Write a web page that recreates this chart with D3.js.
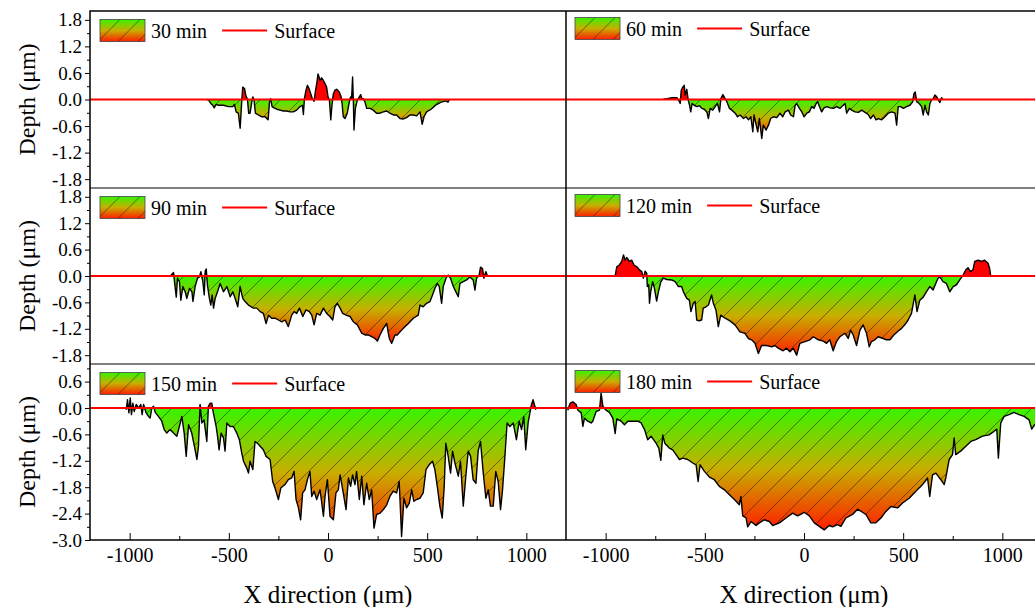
<!DOCTYPE html>
<html>
<head>
<meta charset="utf-8">
<script src="https://cdn.jsdelivr.net/npm/d3@7"></script>
<style>
  body { margin: 0; background: #fff; }
  svg text { font-family: "Liberation Serif", "Times New Roman", Times, "DejaVu Serif", serif !important; }
</style>
</head>
<body>
<svg id="chart" width="1035" height="607"></svg>
<script>
// depth profiles: [x (um), depth (um)]
const profile30 = [[-612,0],[-603,-0.01],[-591,-0.09],[-581,-0.13],[-574,-0.19],[-564,-0.11],[-552,-0.13],[-527,-0.13],[-502,-0.16],[-480,-0.16],[-472,-0.11],[-463,-0.28],[-452,-0.31],[-443,-0.65],[-435,-0.05],[-430,0.28],[-421,0.25],[-415,0.10],[-406,0.00],[-400,-0.31],[-393,-0.31],[-384,-0.05],[-379,0.06],[-373,-0.01],[-366,-0.31],[-351,-0.35],[-334,-0.39],[-317,-0.39],[-309,-0.43],[-302,-0.46],[-295,-0.05],[-289,0.02],[-282,-0.16],[-272,-0.19],[-258,-0.22],[-242,-0.24],[-225,-0.26],[-208,-0.26],[-191,-0.28],[-175,-0.28],[-158,-0.24],[-141,-0.16],[-129,-0.13],[-124,-0.34],[-119,0.02],[-111,0.21],[-104,0.32],[-96,0.25],[-87,0.13],[-79,0.02],[-70,-0.04],[-64,0.17],[-57,0.36],[-50,0.58],[-40,0.43],[-32,0.49],[-23,0.43],[-15,0.36],[-7,0.28],[0,0.06],[7,-0.01],[14,-0.46],[20,-0.13],[27,0.13],[35,0.21],[44,0.23],[57,0.17],[66,0.06],[71,-0.09],[77,-0.39],[86,-0.43],[97,-0.31],[108,-0.04],[114,0.06],[119,0.02],[124,0.51],[128,-0.05],[131,-0.69],[138,-0.20],[148,-0.01],[158,0.06],[165,0.11],[171,0.02],[178,0.02],[186,-0.05],[195,-0.20],[212,-0.20],[228,-0.24],[245,-0.31],[262,-0.31],[279,-0.28],[296,-0.26],[312,-0.31],[329,-0.35],[346,-0.35],[363,-0.43],[380,-0.44],[396,-0.41],[413,-0.35],[430,-0.35],[447,-0.37],[464,-0.28],[475,-0.56],[484,-0.39],[497,-0.28],[520,-0.22],[545,-0.12],[570,-0.06],[595,-0.03],[605,-0.06],[612,0.0]];

const profile60 = [[-708,0.01],[-691,0.02],[-666,0.04],[-641,0.04],[-633,-0.01],[-624,-0.09],[-619,0.21],[-611,0.28],[-604,0.32],[-599,0.10],[-591,0.23],[-584,-0.01],[-577,-0.13],[-571,-0.28],[-564,-0.09],[-554,-0.13],[-540,-0.16],[-527,-0.14],[-515,-0.20],[-503,-0.22],[-490,-0.28],[-482,-0.43],[-473,-0.20],[-460,-0.24],[-448,-0.16],[-436,-0.09],[-426,-0.28],[-419,0.02],[-409,0.11],[-398,0.02],[-389,-0.05],[-376,-0.20],[-364,-0.24],[-347,-0.31],[-335,-0.39],[-322,-0.35],[-305,-0.43],[-292,-0.39],[-280,-0.46],[-268,-0.39],[-258,-0.73],[-252,-0.35],[-241,-0.58],[-233,-0.73],[-225,-0.43],[-213,-0.88],[-205,-0.58],[-191,-0.69],[-179,-0.58],[-168,-0.43],[-154,-0.39],[-137,-0.41],[-121,-0.31],[-107,-0.39],[-95,-0.28],[-79,-0.24],[-67,-0.35],[-53,-0.39],[-45,-0.14],[-37,-0.09],[-23,-0.20],[-11,-0.28],[0,-0.39],[14,-0.31],[27,-0.28],[39,-0.16],[51,-0.20],[61,-0.09],[68,-0.05],[78,-0.16],[89,-0.28],[101,-0.19],[115,-0.16],[131,-0.19],[148,-0.20],[165,-0.16],[182,-0.20],[195,-0.14],[207,-0.09],[215,-0.31],[229,-0.20],[240,-0.24],[257,-0.28],[274,-0.29],[291,-0.24],[308,-0.29],[324,-0.34],[336,-0.43],[350,-0.35],[363,-0.46],[375,-0.43],[392,-0.46],[408,-0.39],[425,-0.31],[442,-0.28],[459,-0.31],[467,-0.58],[475,-0.16],[487,-0.16],[501,-0.20],[517,-0.16],[534,-0.13],[548,-0.05],[554,0.13],[561,0.17],[568,-0.05],[581,-0.09],[593,-0.16],[601,-0.35],[610,-0.13],[618,-0.28],[627,-0.35],[635,-0.09],[643,-0.01],[652,0.02],[660,0.10],[669,0.06],[677,-0.01],[685,-0.07],[694,0.04],[699,0.01]];

const profile90 = [[-799,-0.02],[-779,0.08],[-770,-0.28],[-765,-0.48],[-759,-0.05],[-749,-0.13],[-742,-0.55],[-732,-0.24],[-720,-0.36],[-712,-0.51],[-698,-0.28],[-686,-0.36],[-681,-0.58],[-670,-0.24],[-658,-0.05],[-648,-0.02],[-641,0.10],[-631,-0.13],[-624,-0.43],[-619,0.11],[-614,0.16],[-608,-0.20],[-598,-0.51],[-591,-0.66],[-584,-0.43],[-577,-0.73],[-569,-0.51],[-557,-0.36],[-544,-0.17],[-527,-0.36],[-510,-0.24],[-493,-0.47],[-480,-0.36],[-468,-0.51],[-455,-0.70],[-443,-0.24],[-430,-0.51],[-418,-0.58],[-401,-0.66],[-376,-0.73],[-359,-0.73],[-342,-0.81],[-326,-0.85],[-312,-1.08],[-300,-0.89],[-284,-0.96],[-267,-0.96],[-250,-1.00],[-233,-1.04],[-216,-1.00],[-200,-1.15],[-183,-0.89],[-171,-0.81],[-158,-0.85],[-144,-0.73],[-127,-0.92],[-111,-0.77],[-94,-0.81],[-82,-0.89],[-70,-1.11],[-57,-0.85],[-40,-0.89],[-23,-0.73],[-7,-0.85],[10,-0.92],[24,-1.00],[35,-0.70],[47,-0.62],[61,-0.73],[74,-0.85],[91,-0.89],[111,-0.92],[128,-1.04],[148,-1.11],[170,-1.30],[187,-1.34],[203,-1.34],[220,-1.38],[237,-1.42],[249,-1.48],[262,-1.34],[279,-1.19],[296,-1.08],[309,-1.42],[321,-1.53],[338,-1.34],[349,-1.34],[363,-1.27],[380,-1.19],[405,-1.08],[430,-0.96],[455,-0.89],[464,-0.66],[480,-0.70],[497,-0.62],[514,-0.58],[527,-0.43],[539,-0.28],[551,-0.17],[561,-0.24],[573,-0.62],[581,-0.24],[595,-0.05],[606,0.02],[618,-0.05],[632,-0.24],[645,-0.36],[657,-0.47],[665,-0.17],[682,-0.13],[699,-0.09],[715,-0.02],[732,-0.09],[741,-0.32],[749,-0.05],[762,0.02],[769,0.20],[779,0.17],[786,-0.05],[796,0.10],[803,0.01]];

const profile120 = [[-952,0.01],[-944,0.21],[-931,0.25],[-919,0.33],[-910,0.48],[-902,0.36],[-894,0.42],[-880,0.33],[-869,0.36],[-857,0.25],[-843,0.21],[-830,0.14],[-818,0.10],[-810,-0.05],[-801,0.11],[-793,0.06],[-790,-0.24],[-783,-0.20],[-779,-0.62],[-773,-0.36],[-763,-0.13],[-754,-0.28],[-743,-0.57],[-734,-0.36],[-722,-0.13],[-709,-0.05],[-692,-0.08],[-667,-0.09],[-650,-0.13],[-633,-0.24],[-617,-0.24],[-608,-0.36],[-591,-0.51],[-578,-0.55],[-570,-0.81],[-558,-0.62],[-549,-0.58],[-541,-1.00],[-528,-1.02],[-516,-1.00],[-508,-0.73],[-494,-0.70],[-482,-0.66],[-466,-0.43],[-457,-0.62],[-444,-0.77],[-432,-1.15],[-420,-0.89],[-398,-0.96],[-373,-1.02],[-348,-1.11],[-323,-1.27],[-298,-1.30],[-281,-1.42],[-264,-1.45],[-247,-1.53],[-230,-1.76],[-214,-1.58],[-188,-1.58],[-163,-1.61],[-147,-1.58],[-130,-1.64],[-105,-1.70],[-88,-1.64],[-71,-1.72],[-54,-1.64],[-37,-1.80],[-21,-1.53],[5,-1.49],[30,-1.45],[47,-1.38],[72,-1.45],[97,-1.48],[114,-1.53],[130,-1.45],[147,-1.70],[164,-1.49],[181,-1.38],[206,-1.30],[223,-1.42],[235,-1.23],[248,-1.34],[265,-1.58],[282,-1.23],[298,-1.11],[315,-1.30],[329,-1.61],[340,-1.49],[357,-1.45],[374,-1.38],[399,-1.42],[416,-1.45],[433,-1.45],[453,-1.34],[475,-1.25],[492,-1.19],[508,-1.11],[525,-1.00],[542,-0.85],[559,-0.43],[570,-0.81],[584,-0.55],[601,-0.48],[617,-0.36],[634,-0.24],[651,-0.32],[668,-0.13],[676,-0.05],[685,-0.02],[701,-0.13],[718,-0.17],[735,-0.36],[752,-0.24],[769,-0.20],[785,-0.09],[802,0.02],[816,0.14],[827,0.19],[839,0.10],[852,0.14],[861,0.33],[878,0.36],[894,0.33],[911,0.36],[928,0.29],[936,0.17],[941,0.01]];

const profile150 = [[-1017,-0.04],[-1011,0.19],[-1004,-0.11],[-997,0.23],[-991,-0.15],[-984,0.11],[-977,-0.08],[-967,0.08],[-955,0.00],[-944,0.08],[-937,-0.15],[-930,0.08],[-917,-0.11],[-905,-0.19],[-897,-0.23],[-888,0.00],[-880,0.04],[-871,-0.10],[-855,-0.19],[-838,-0.30],[-826,-0.49],[-813,-0.57],[-796,-0.49],[-779,-0.57],[-762,-0.64],[-745,-0.34],[-737,-0.19],[-725,-0.57],[-715,-1.10],[-703,-0.38],[-687,-0.57],[-670,-0.95],[-661,-1.17],[-653,-0.87],[-645,0.08],[-636,-0.34],[-625,-0.27],[-611,-0.76],[-603,0.04],[-594,0.11],[-586,0.11],[-578,-0.11],[-564,-0.42],[-557,-0.64],[-549,-0.95],[-539,-0.57],[-527,-0.68],[-519,-0.98],[-510,-0.34],[-494,-0.42],[-477,-0.42],[-460,-0.57],[-447,-0.72],[-435,-1.02],[-426,-1.21],[-410,-1.36],[-401,-1.48],[-393,-1.21],[-379,-1.40],[-368,-0.76],[-356,-0.80],[-342,-0.87],[-326,-0.95],[-312,-1.10],[-292,-1.17],[-279,-1.67],[-267,-1.82],[-250,-2.08],[-238,-1.82],[-217,-1.74],[-200,-1.63],[-183,-1.59],[-171,-1.44],[-161,-2.08],[-149,-2.27],[-138,-2.54],[-128,-1.93],[-116,-1.86],[-104,-1.63],[-91,-1.44],[-82,-2.01],[-70,-1.89],[-57,-2.08],[-40,-1.86],[-23,-2.46],[-15,-2.01],[-3,-1.63],[10,-2.46],[27,-2.54],[40,-1.93],[52,-1.86],[61,-1.52],[77,-1.93],[91,-2.31],[103,-1.59],[114,-1.78],[124,-1.52],[136,-1.74],[144,-1.44],[158,-2.08],[170,-1.55],[181,-2.20],[195,-1.71],[208,-2.08],[220,-1.86],[232,-2.73],[245,-2.42],[262,-2.39],[279,-2.31],[296,-2.20],[312,-2.01],[329,-1.89],[346,-1.93],[359,-1.67],[371,-2.92],[383,-2.05],[396,-2.27],[410,-2.16],[422,-1.86],[433,-2.12],[447,-2.08],[464,-2.05],[480,-1.93],[494,-1.40],[510,-1.29],[527,-1.21],[539,-1.40],[551,-1.78],[564,-2.23],[576,-2.50],[586,-1.78],[594,-0.80],[606,-1.10],[618,-1.48],[628,-0.98],[640,-1.25],[657,-1.55],[668,-1.21],[682,-2.23],[695,-1.55],[707,-0.98],[719,-1.10],[732,-1.63],[746,-1.71],[757,-0.98],[769,-0.76],[782,-1.44],[796,-2.05],[808,-1.86],[819,-2.23],[833,-2.23],[846,-1.44],[858,-1.67],[870,-2.31],[880,-1.86],[892,-1.10],[903,-0.34],[917,-0.42],[934,-0.34],[950,-0.72],[964,-0.30],[976,-0.49],[987,-0.19],[997,-0.95],[1009,-0.34],[1018,-0.11],[1026,0.08],[1034,0.19],[1043,0.04],[1048,-0.04]];

const profile180 = [[-1191,-0.05],[-1179,0.11],[-1165,0.14],[-1149,0.08],[-1140,-0.05],[-1123,-0.11],[-1115,-0.42],[-1107,-0.23],[-1090,-0.30],[-1073,-0.34],[-1065,-0.30],[-1048,-0.08],[-1031,-0.05],[-1023,0.34],[-1014,0.04],[-998,-0.05],[-981,-0.10],[-964,-0.23],[-952,-0.58],[-944,-0.25],[-922,-0.30],[-905,-0.38],[-888,-0.30],[-863,-0.30],[-838,-0.30],[-821,-0.34],[-804,-0.49],[-788,-0.72],[-771,-0.64],[-746,-0.80],[-732,-0.91],[-722,-1.19],[-712,-0.61],[-702,-0.80],[-679,-0.91],[-662,-0.95],[-645,-1.06],[-628,-1.17],[-611,-1.14],[-586,-1.17],[-561,-1.25],[-544,-1.29],[-534,-1.67],[-524,-1.29],[-502,-1.44],[-477,-1.57],[-452,-1.63],[-427,-1.78],[-401,-1.86],[-376,-1.97],[-351,-2.08],[-326,-2.20],[-318,-2.01],[-309,-2.45],[-292,-2.50],[-284,-2.70],[-267,-2.58],[-242,-2.67],[-225,-2.61],[-200,-2.54],[-175,-2.58],[-158,-2.67],[-124,-2.61],[-91,-2.50],[-57,-2.39],[-32,-2.45],[1,-2.37],[27,-2.45],[52,-2.61],[77,-2.69],[102,-2.77],[127,-2.67],[144,-2.70],[169,-2.65],[186,-2.69],[211,-2.50],[245,-2.42],[270,-2.30],[295,-2.37],[312,-2.42],[337,-2.61],[362,-2.61],[388,-2.50],[413,-2.35],[438,-2.24],[472,-2.27],[497,-2.16],[530,-2.05],[564,-1.89],[598,-1.74],[623,-1.59],[634,-2.01],[648,-1.52],[665,-1.48],[690,-1.63],[707,-1.74],[715,-1.59],[732,-1.17],[749,-1.06],[757,-0.68],[765,-1.06],[790,-0.98],[816,-0.87],[841,-0.76],[866,-0.72],[900,-0.64],[933,-0.61],[958,-0.53],[972,-0.48],[980,-1.14],[992,-0.34],[1009,-0.19],[1034,-0.15],[1059,-0.10],[1084,-0.15],[1110,-0.19],[1135,-0.27],[1148,-0.48],[1163,-0.38],[1180,-0.40]];

const panelLabels = ["30 min", "60 min", "90 min", "120 min", "150 min", "180 min"];
const profiles = [profile30, profile60, profile90, profile120, profile150, profile180];

const xDomain = [-1200, 1200];
const xTicks = [-1000, -500, 0, 500, 1000];
const xMinorTicks = [-750, -250, 250, 750];

const yDomainUpper = [-2, 2];
const yDomainLower = [-3, 1];
const yTicksUpper = [-1.8, -1.2, -0.6, 0, 0.6, 1.2, 1.8];
const yMinorUpper = [-1.5, -0.9, -0.3, 0.3, 0.9, 1.5];
const yTicksLower = [-3.0, -2.4, -1.8, -1.2, -0.6, 0, 0.6];
const yMinorLower = [-2.7, -2.1, -1.5, -0.9, -0.3, 0.3, 0.9];

// layout
const cols = [{ x0: 90, x1: 566 }, { x0: 566, x1: 1042 }];
const rows = [
  { y0: 11, y1: 188, dom: yDomainUpper, ticks: yTicksUpper, minor: yMinorUpper },
  { y0: 188, y1: 364, dom: yDomainUpper, ticks: yTicksUpper, minor: yMinorUpper },
  { y0: 364, y1: 540, dom: yDomainLower, ticks: yTicksLower, minor: yMinorLower }
];
const serif = '"Liberation Serif", "Times New Roman", Times, serif';

const svg = d3.select("#chart");
const defs = svg.append("defs");

// green -> red vertical gradient
const grad = defs.append("linearGradient").attr("id", "depthGrad")
  .attr("x1", 0).attr("y1", 0).attr("x2", 0).attr("y2", 1);
grad.append("stop").attr("offset", "0%").attr("stop-color", "#38f400");
grad.append("stop").attr("offset", "50%").attr("stop-color", "#c8ae00");
grad.append("stop").attr("offset", "100%").attr("stop-color", "#ff1e00");

// thin diagonal hatch
const hatch = defs.append("pattern").attr("id", "hatch")
  .attr("patternUnits", "userSpaceOnUse").attr("width", 20).attr("height", 20);
hatch.append("path")
  .attr("d", "M0,20 L20,0 M-5,5 L5,-5 M15,25 L25,15")
  .attr("stroke", "#000").attr("stroke-width", 0.6).attr("stroke-opacity", 0.75);

profiles.forEach((data, i) => {
  const col = cols[i % 2];
  const row = rows[Math.floor(i / 2)];
  const x = d3.scaleLinear().domain(xDomain).range([col.x0, col.x1]);
  const y = d3.scaleLinear().domain(row.dom).range([row.y1, row.y0]);

  defs.append("clipPath").attr("id", "clip" + i)
    .append("rect").attr("x", col.x0).attr("y", row.y0)
    .attr("width", col.x1 - col.x0).attr("height", row.y1 - row.y0);

  const g = svg.append("g").attr("clip-path", `url(#clip${i})`);

  const below = d3.area().x(d => x(d[0])).y0(y(0)).y1(d => y(Math.min(d[1], 0)));
  const above = d3.area().x(d => x(d[0])).y0(y(0)).y1(d => y(Math.max(d[1], 0)));
  const line = d3.line().x(d => x(d[0])).y(d => y(d[1]));

  g.append("path").attr("d", below(data)).attr("fill", "url(#depthGrad)");
  g.append("path").attr("d", below(data)).attr("fill", "url(#hatch)");
  g.append("path").attr("d", above(data)).attr("fill", "#ff0000");
  g.append("path").attr("d", line(data))
    .attr("fill", "none").attr("stroke", "#000").attr("stroke-width", 1.4)
    .attr("stroke-linejoin", "round");

  // surface line
  g.append("line")
    .attr("x1", col.x0).attr("x2", col.x1)
    .attr("y1", y(0)).attr("y2", y(0))
    .attr("stroke", "#ff0000").attr("stroke-width", 2);

  // legend
  const lx = col.x0 + (i % 2 === 0 ? 10 : 9);
  const ly = row.y0 + (i % 2 === 0 ? 8.5 : 6.5);
  const lg = svg.append("g").attr("transform", `translate(${lx},${ly})`);
  lg.append("rect").attr("width", 45).attr("height", 22).attr("fill", "url(#depthGrad)");
  lg.append("rect").attr("width", 45).attr("height", 22)
    .attr("fill", "url(#hatch)").attr("stroke", "#444").attr("stroke-width", 0.8);
  const t1 = lg.append("text").attr("x", 51).attr("y", 18)
    .attr("font-size", 20).attr("font-family", serif).text(panelLabels[i]);
  const w = t1.node().getComputedTextLength();
  const sx = 51 + w + 15;
  lg.append("line").attr("x1", sx).attr("x2", sx + 45).attr("y1", 11).attr("y2", 11)
    .attr("stroke", "#ff0000").attr("stroke-width", 2);
  lg.append("text").attr("x", sx + 52).attr("y", 18)
    .attr("font-size", 20).attr("font-family", serif).text("Surface");

  // y axis on left column only
  if (i % 2 === 0) {
    const ya = svg.append("g").attr("transform", `translate(${col.x0},0)`)
      .call(d3.axisLeft(y).tickValues(row.ticks).tickFormat(v => v.toFixed(1)).tickSize(5).tickPadding(3));
    ya.select(".domain").remove();
    ya.selectAll("text").attr("font-size", 19).attr("font-family", serif).attr("fill", "#000");
    const ym = svg.append("g").attr("transform", `translate(${col.x0},0)`)
      .call(d3.axisLeft(y).tickValues(row.minor).tickFormat("").tickSize(3));
    ym.select(".domain").remove();

    svg.append("text")
      .attr("transform", `translate(27,${(row.y0 + row.y1) / 2}) rotate(-90)`)
      .attr("text-anchor", "middle").attr("dominant-baseline", "central")
      .attr("font-size", 24).attr("font-family", serif).text("Depth (\u03bcm)");
  }

  // x axis on bottom row
  if (i >= 4) {
    const xa = svg.append("g").attr("transform", `translate(0,${row.y1})`)
      .call(d3.axisBottom(x).tickValues(xTicks).tickFormat(d => String(d)).tickSize(-7).tickPadding(8));
    xa.select(".domain").remove();
    xa.selectAll("text").attr("font-size", 20).attr("font-family", serif).attr("fill", "#000");
    const xm = svg.append("g").attr("transform", `translate(0,${row.y1})`)
      .call(d3.axisBottom(x).tickValues(xMinorTicks).tickFormat("").tickSize(-4));
    xm.select(".domain").remove();

    svg.append("text")
      .attr("x", (col.x0 + col.x1) / 2).attr("y", 603)
      .attr("text-anchor", "middle")
      .attr("font-size", 25).attr("font-family", serif).text("X direction (\u03bcm)");
  }
});

// frames
const frame = svg.append("g").attr("stroke", "#000").attr("stroke-width", 1.5).attr("fill", "none");
frame.append("rect").attr("x", 90).attr("y", 11).attr("width", 952).attr("height", 529);
frame.append("line").attr("x1", 566).attr("x2", 566).attr("y1", 11).attr("y2", 540);
frame.append("line").attr("x1", 90).attr("x2", 1042).attr("y1", 188).attr("y2", 188).attr("stroke-width", 1.2);
frame.append("line").attr("x1", 90).attr("x2", 1042).attr("y1", 364).attr("y2", 364).attr("stroke-width", 1.2);
</script>
</body>
</html>
